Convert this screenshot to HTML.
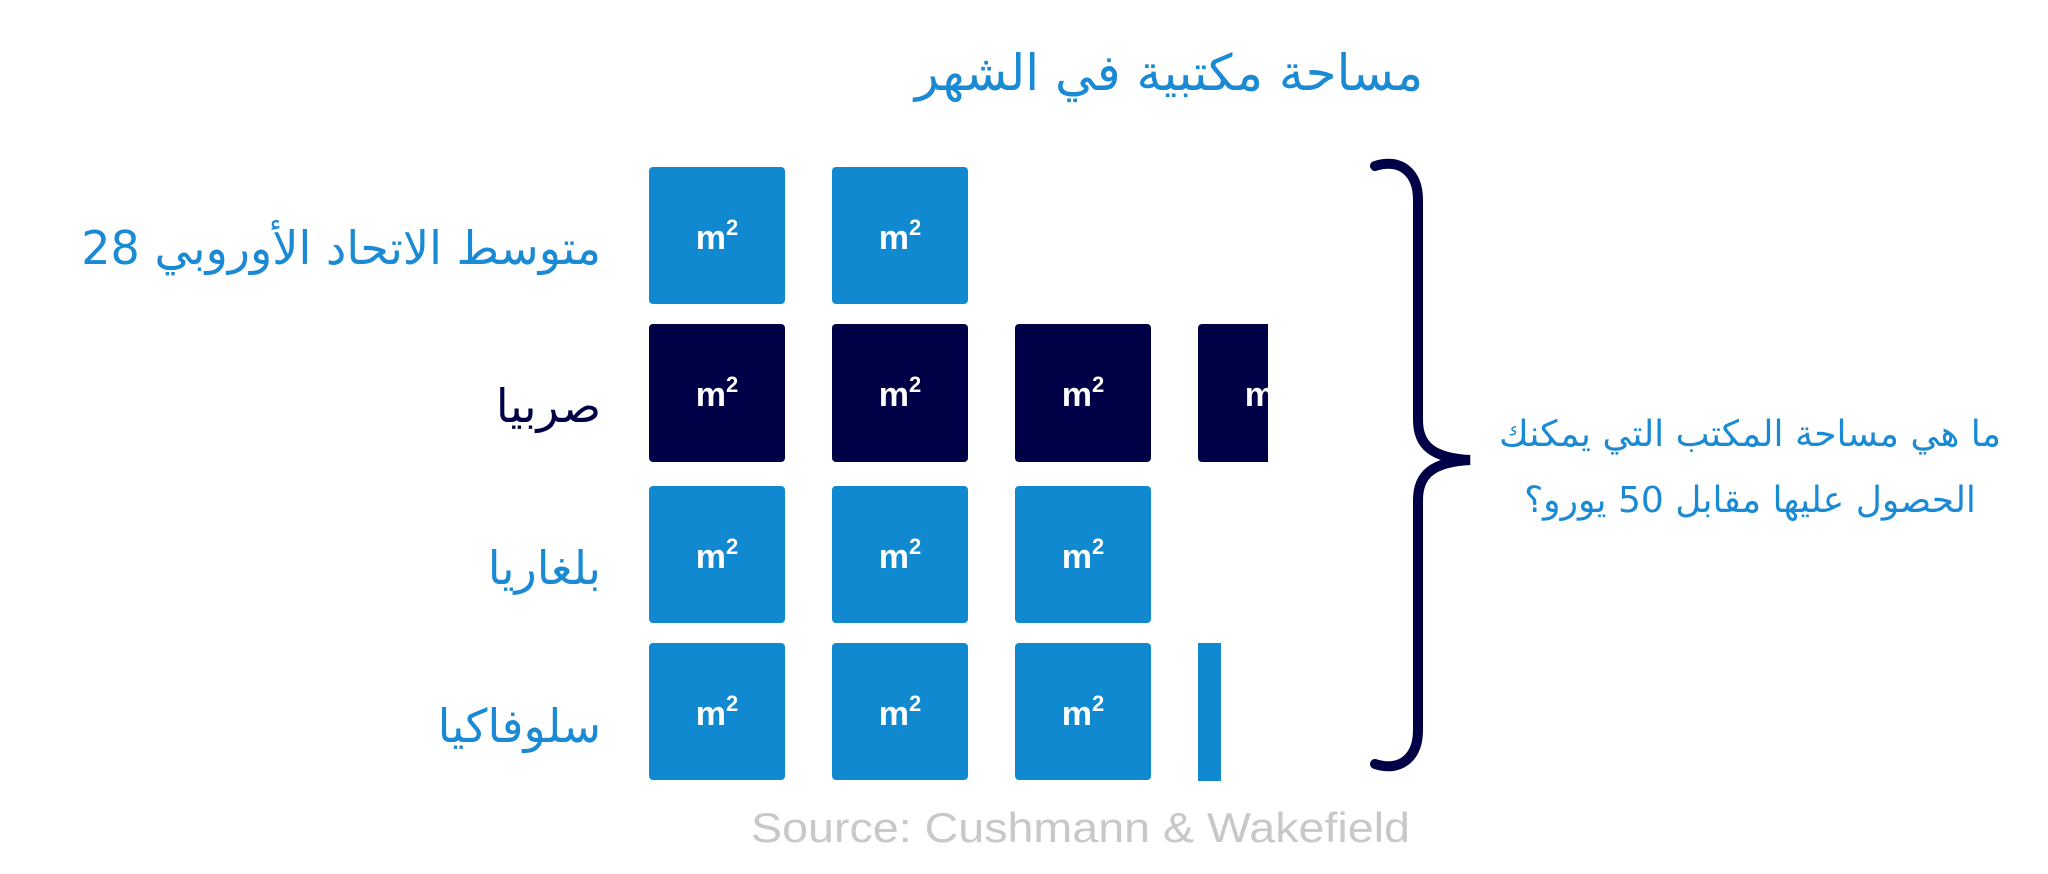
<!DOCTYPE html>
<html><head><meta charset="utf-8"><style>
html,body{margin:0;padding:0;background:#fff;width:2048px;height:874px;overflow:hidden}
text{font-family:"Liberation Sans","DejaVu Sans",sans-serif}
.ar{font-family:"DejaVu Sans","Noto Sans CJK SC",sans-serif}
</style></head><body>
<svg width="2048" height="874" viewBox="0 0 2048 874" xmlns="http://www.w3.org/2000/svg">
<defs>
<g id="bl"><rect width="136" height="137" rx="4" fill="#1089d0"/><text x="68" y="82" fill="#fff" font-size="34" font-weight="bold" text-anchor="middle">m<tspan font-size="22" dy="-14">2</tspan></text></g>
<g id="dk"><rect width="136" height="138" rx="4" fill="#000046"/><text x="68" y="82" fill="#fff" font-size="34" font-weight="bold" text-anchor="middle">m<tspan font-size="22" dy="-14">2</tspan></text></g>
</defs>
<text class="ar" x="1169" y="90" fill="#1a8ad4" font-size="50" text-anchor="middle" direction="rtl">مساحة مكتبية في الشهر</text>
<use href="#bl" x="649" y="167"/><use href="#bl" x="832" y="167"/>
<use href="#dk" x="649" y="324"/><use href="#dk" x="832" y="324"/><use href="#dk" x="1015" y="324"/>
<svg x="1198" y="324" width="70" height="138" overflow="hidden"><use href="#dk" x="0" y="0"/></svg>
<use href="#bl" x="649" y="486"/><use href="#bl" x="832" y="486"/><use href="#bl" x="1015" y="486"/>
<use href="#bl" x="649" y="643"/><use href="#bl" x="832" y="643"/><use href="#bl" x="1015" y="643"/>
<rect x="1198" y="643" width="23" height="138" fill="#1089d0"/>
<text class="ar" x="601" y="264" fill="#1a8ad4" font-size="46" text-anchor="start" direction="rtl">متوسط الاتحاد الأوروبي 28</text>
<text class="ar" x="601" y="422" fill="#000046" font-size="46" text-anchor="start" direction="rtl">صربيا</text>
<text class="ar" x="601" y="584" fill="#1a8ad4" font-size="46" text-anchor="start" direction="rtl">بلغاريا</text>
<text class="ar" x="601" y="742" fill="#1a8ad4" font-size="46" text-anchor="start" direction="rtl">سلوفاكيا</text>
<path d="M1375 166 C1400 158 1418 172 1418 200 L1418 420 C1418 445 1432 458 1470 460 C1432 462 1418 475 1418 500 L1418 730 C1418 758 1400 772 1375 764" fill="none" stroke="#000046" stroke-width="10" stroke-linecap="round"/>
<text class="ar" x="1750" y="446" fill="#1a8ad4" font-size="36" text-anchor="middle" direction="rtl">ما هي مساحة المكتب التي يمكنك</text>
<text class="ar" x="1750" y="512" fill="#1a8ad4" font-size="36" text-anchor="middle" direction="rtl">الحصول عليها مقابل 50 يورو؟</text>
<text x="751" y="842" fill="#c8c8c8" font-size="42" textLength="659" lengthAdjust="spacingAndGlyphs">Source: Cushmann &amp; Wakefield</text>
</svg>
</body></html>
